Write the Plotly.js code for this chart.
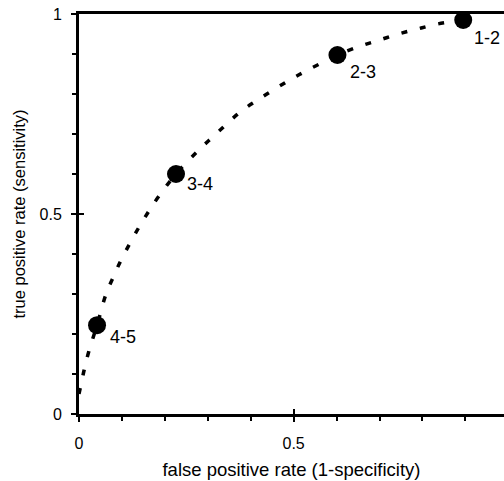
<!DOCTYPE html>
<html>
<head>
<meta charset="utf-8">
<script src="https://cdn.plot.ly/plotly-3.0.1.min.js"></script>
<style>html,body{margin:0;padding:0;background:#fff;}#chart{width:504px;height:481px;}</style>
</head>
<body>
<div id="chart"></div>
<script>
// Operating points (cut-off between rating categories)
const pointLabels = ["1-2", "2-3", "3-4", "4-5"];
const pointFPR = [0.895, 0.602, 0.226, 0.042];
const pointTPR = [0.985, 0.8975, 0.60, 0.222];

// Fitted ROC curve
const curveFPR = [0, 0.012, 0.023, 0.042, 0.063, 0.079, 0.098, 0.119, 0.14, 0.163, 0.188, 0.226,
  0.279, 0.312, 0.344, 0.379, 0.416, 0.456, 0.495, 0.533, 0.574, 0.602,
  0.656, 0.70, 0.744, 0.788, 0.835, 0.895];
const curveTPR = [0.05, 0.11, 0.157, 0.222, 0.30, 0.34, 0.385, 0.4275, 0.4675, 0.5075, 0.5475, 0.60,
  0.66, 0.693, 0.725, 0.758, 0.785, 0.8125, 0.8375, 0.86, 0.8825, 0.8975,
  0.92, 0.935, 0.95, 0.9625, 0.975, 0.985];

const xTickVals = [0, 0.5];
const xTickText = ["0", "0.5"];
const yTickVals = [0, 0.5, 1];
const yTickText = ["0", "0.5", "1"];

// label offsets (style, pixels)
const labelShiftY = [-18, -17, -10, -12];
const labelShiftX = [9, 11, 9, 11];

const fam = "Liberation Sans, Arial, Helvetica, sans-serif";
const mk = (s) => ({family: fam, size: s, color: "#000"});

const traces = [
  {
    x: curveFPR, y: curveTPR, mode: "lines", type: "scatter",
    line: {color: "#000", width: 3.5, dash: "6px,13px", shape: "spline"},
    hoverinfo: "skip", cliponaxis: false
  },
  {
    x: pointFPR, y: pointTPR, mode: "markers", type: "scatter",
    marker: {color: "#000", size: 18},
    cliponaxis: false
  }
];

const annotations = pointLabels.map((t, i) => ({
  x: pointFPR[i], y: pointTPR[i], xref: "x", yref: "y",
  text: t, showarrow: false, xanchor: "left", yanchor: "middle",
  xshift: labelShiftX[i], yshift: labelShiftY[i], font: mk(18)
}));

const layout = {
  width: 504, height: 481,
  margin: {l: 79, r: 0, t: 14, b: 67},
  paper_bgcolor: "#fff", plot_bgcolor: "#fff",
  showlegend: false,
  font: mk(16),
  annotations: annotations,
  xaxis: {
    range: [0, 0.99],
    tickvals: xTickVals, ticktext: xTickText,
    ticks: "outside", ticklen: 5, tickwidth: 2, tickcolor: "#000",
    minor: {dtick: 0.1, tick0: 0, ticks: "outside", ticklen: 4, tickwidth: 2, tickcolor: "#000", showgrid: false},
    showline: true, linecolor: "#000", linewidth: 3, mirror: true,
    showgrid: false, zeroline: false,
    tickfont: mk(16), ticklabelstandoff: 8,
    title: {text: "false positive rate (1-specificity)", font: mk(18.5), standoff: 12}
  },
  xaxis2: {
    overlaying: "x", matches: "x", anchor: "y", side: "bottom",
    tickvals: [0.5], ticks: "inside", ticklen: 5, tickwidth: 2, tickcolor: "#000",
    showticklabels: false, showline: false, showgrid: false, zeroline: false
  },
  yaxis: {
    range: [0, 1],
    tickvals: yTickVals, ticktext: yTickText,
    ticks: "outside", ticklen: 5, tickwidth: 2, tickcolor: "#000",
    minor: {dtick: 0.1, tick0: 0, ticks: "outside", ticklen: 4, tickwidth: 2, tickcolor: "#000", showgrid: false},
    showline: true, linecolor: "#000", linewidth: 3,
    showgrid: false, zeroline: false,
    tickfont: mk(16), ticklabelstandoff: 6,
    title: {text: "true positive rate (sensitivity)", font: mk(16.5), standoff: 10}
  },
  yaxis2: {
    overlaying: "y", matches: "y", anchor: "x", side: "left",
    tickvals: [0.5], ticks: "inside", ticklen: 5, tickwidth: 2, tickcolor: "#000",
    showticklabels: false, showline: false, showgrid: false, zeroline: false
  }
};

// dummy trace so the overlay axes get drawn
traces.push({x: [null], y: [null], xaxis: "x2", yaxis: "y2", type: "scatter", mode: "markers", hoverinfo: "skip"});

Plotly.newPlot("chart", traces, layout, {displayModeBar: false, staticPlot: true});
</script>
</body>
</html>
